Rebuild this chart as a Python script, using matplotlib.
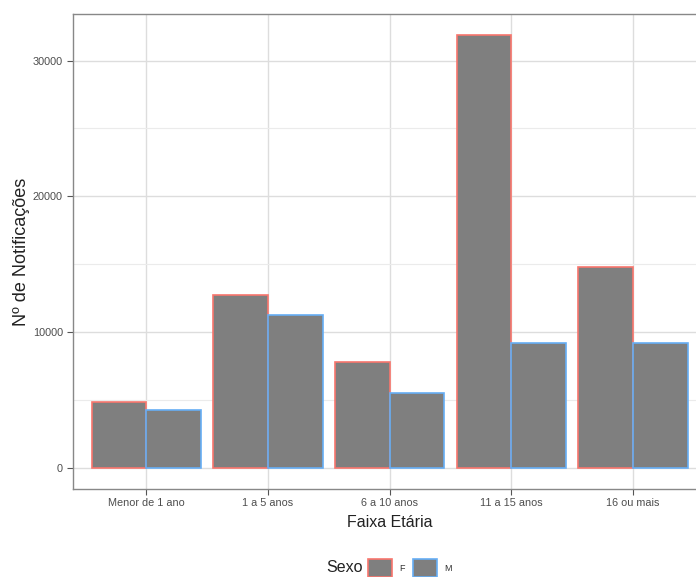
import numpy as np
import matplotlib
matplotlib.use('Agg')
import matplotlib.pyplot as plt
from matplotlib.patches import Patch
from matplotlib.ticker import MultipleLocator

plt.rcParams['font.family'] = ['Liberation Sans', 'DejaVu Sans']

faixas = ['Menor de 1 ano', '1 a 5 anos', '6 a 10 anos', '11 a 15 anos', '16 ou mais']
fem = [4870, 12750, 7810, 31890, 14770]
masc = [4230, 11280, 5500, 9170, 9210]

fill = '#7F7F7F'
cor_f = '#F8766D'
cor_m = '#66AEF5'

fig = plt.figure(figsize=(6.96, 5.77), dpi=100)
ax = fig.add_axes([73.3 / 696, 88 / 577, 632.7 / 696, 475 / 577])

x = np.arange(1, len(faixas) + 1)
w = 0.45
ax.bar(x - w / 2, fem, width=w, color=fill, edgecolor=cor_f, linewidth=1.2, zorder=3)
ax.bar(x + w / 2, masc, width=w, color=fill, edgecolor=cor_m, linewidth=1.2, zorder=3)

ax.set_xlim(0.4, 5.6)
ax.set_ylim(-1570, 33430)
ax.set_xticks(x)
ax.set_xticklabels(faixas, fontsize=7.8, color='#4D4D4D')
ax.yaxis.set_major_locator(MultipleLocator(10000))
ax.yaxis.set_minor_locator(MultipleLocator(5000))
ax.tick_params(axis='y', labelsize=7.8, labelcolor='#4D4D4D')
ax.tick_params(which='major', length=4, width=0.8, color='#555555')
ax.tick_params(which='minor', length=0)
ax.tick_params(axis='x', pad=2.5)
ax.grid(which='major', color='#DDDDDD', linewidth=1.0, zorder=0)
ax.grid(which='minor', axis='y', color='#EBEBEB', linewidth=0.8, zorder=0)
ax.set_axisbelow(True)
for s in ax.spines.values():
    s.set_color('#888888')
    s.set_linewidth(1.0)

ax.set_xlabel('Faixa Etária', fontsize=11.5, color='#222222', labelpad=5)
ax.set_ylabel('Nº de Notificações', fontsize=13, color='#222222', labelpad=2)

handles = [Patch(facecolor=fill, edgecolor=cor_f, linewidth=1.2),
           Patch(facecolor=fill, edgecolor=cor_m, linewidth=1.2)]
fig.text(345 / 696, 1 - 567 / 577, 'Sexo', fontsize=11.5, color='#222222',
         ha='center', va='center')
fig.legend(handles, ['F', 'M'], loc='center left', ncol=2, frameon=False,
           bbox_to_anchor=(360 / 696, 1 - 568 / 577), fontsize=6.5,
           handlelength=2.6, handleheight=2.6, handletextpad=0.8,
           columnspacing=1.0, labelcolor='#333333')

fig.savefig('out.png', dpi=100)
